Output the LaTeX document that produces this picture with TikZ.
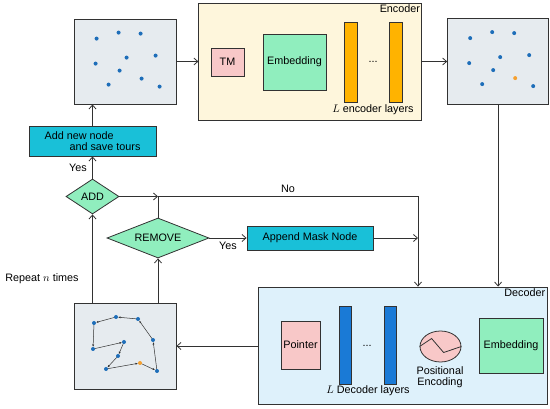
\documentclass[tikz,border=0pt]{standalone}
\usepackage{fontspec}
\setmainfont{Liberation Sans}
\usepackage{tikz}
\usetikzlibrary{shapes.geometric, arrows.meta, positioning, calc}
\definecolor{linegray}{RGB}{50,50,50}
\definecolor{boxgray}{RGB}{230,235,239}
\definecolor{enccolor}{RGB}{254,246,220}
\definecolor{deccolor}{RGB}{222,241,251}
\definecolor{pinkfill}{RGB}{248,200,200}
\definecolor{embgreen}{RGB}{144,238,190}
\definecolor{barorange}{RGB}{255,179,0}
\definecolor{barblue}{RGB}{26,122,214}
\definecolor{cyanfill}{RGB}{25,192,216}
\definecolor{dotblue}{RGB}{30,110,185}
\definecolor{dotorange}{RGB}{245,160,48}

\begin{document}
\begin{tikzpicture}[
    x=1pt, y=-1pt,
    font=\fontsize{10.8}{12.5}\selectfont,
    node distance=22pt and 22pt,
    ptsbox/.style={rectangle, draw=linegray, line width=0.8pt, fill=boxgray, minimum width=102pt, minimum height=85pt, inner sep=0pt},
    box/.style={rectangle, draw=linegray, line width=0.8pt, align=center, inner sep=0pt},
    layerbar/.style={rectangle, draw=linegray, line width=0.6pt, minimum width=13pt, minimum height=80pt, inner sep=0pt},
    decision/.style={diamond, draw=linegray, line width=0.8pt, fill=embgreen, shape aspect=2, inner sep=0pt},
    dot/.style={circle, fill=dotblue, inner sep=0pt, minimum size=4pt},
    arrow/.style={-{Straight Barb[length=4pt, width=7pt]}, line width=0.8pt, draw=linegray},
    tourarrow/.style={-{Latex[length=2.5pt, width=2pt]}, line width=0.5pt, draw=linegray, shorten >=2pt},
    corner/.style={anchor=north east, inner sep=2pt}
]
\useasboundingbox (0,0) rectangle (550,409);

% top row
\node[ptsbox] (pts) at (125,61.5) {};
\node[box, fill=enccolor, minimum width=223pt, minimum height=117pt, right=22pt of pts] (enc) {};
\node[ptsbox, right=25pt of enc, minimum width=101pt, minimum height=86pt] (encpts) {};
\node[corner] at (enc.north east) {Encoder};

\node[box, fill=pinkfill, minimum width=33pt, minimum height=28pt] (tm) at (227.5,62) {TM};
\node[box, fill=embgreen, minimum width=63pt, minimum height=56pt] (emb) at (294.5,62) {Embedding};
\node[layerbar, fill=barorange] (encl1) at (350.5,62) {};
\node[layerbar, fill=barorange] (encl2) at (395.5,62) {};
\node (encdots) at (373,62) {...};
\node (enclabel) at (373,110) {$L$ encoder layers};

\foreach \dx/\dy in {23/20, 45/14, 67/15, 22/45, 53/39, 82/37, 46/52, 35/66, 86/68}
  \node[dot] at ($(pts.north west)+(\dx,\dy)$) {};
\node[dot] at ($(pts.north west)+(68,60)$) {};
\foreach \dx/\dy in {23/20, 45/14, 67/15, 22/45, 53/39, 82/37, 46/52, 35/66, 86/68}
  \node[dot] at ($(encpts.north west)+(\dx,\dy)$) {};
\node[dot, fill=dotorange] at ($(encpts.north west)+(68,60)$) {};

% decoder
\node[box, fill=deccolor, minimum width=289pt, minimum height=117pt] (dec) at (402.5,345.5) {};
\node[corner] at (dec.north east) {Decoder};
\node[box, fill=pinkfill, minimum width=39pt, minimum height=48pt] (ptr) at (300.5,345) {Pointer};
\node[layerbar, fill=barblue, minimum width=12pt, minimum height=78pt] (decl1) at (345,345) {};
\node[layerbar, fill=barblue, minimum width=12pt, minimum height=78pt] (decl2) at (390,345) {};
\node (decdots) at (367,346) {...};
\node (declabel) at (368,391) {$L$ Decoder layers};
\node[ellipse, draw=linegray, line width=0.8pt, fill=pinkfill, minimum width=41pt, minimum height=31pt, inner sep=0pt] (pe) at (440.5,346.5) {};
\draw[linegray, line width=0.8pt] (pe.west) -- ++(12,-8) -- ++(12,14) -- (pe.east);
\node[align=center] (pelabel) at (440,377) {Positional\\[-1pt]Encoding};
\node[box, fill=embgreen, minimum width=64pt, minimum height=55pt] (demb) at (511,345.5) {Embedding};

% tour
\node[ptsbox, minimum height=86pt] (tour) at (125,346) {};
\foreach \name/\px/\py in {t1/94/323, t2/116/317, t3/138/319, t4/153/340, t5/157/371,
    t6/140/363, t7/106/369, t8/118/356, t9/124/342, t10/93/349}
  \coordinate (\name) at (\px,\py);
\foreach \a/\b in {t6/t5, t5/t4, t4/t3, t3/t2, t2/t1, t1/t10, t10/t9, t9/t8, t8/t7, t7/t6}
  \draw[tourarrow] (\a) -- (\b);
\foreach \name in {t1, t2, t3, t4, t5, t7, t8, t9, t10}
  \node[dot] at (\name) {};
\node[dot, fill=dotorange] at (t6) {};

% control flow
\node[decision, minimum width=53pt, minimum height=35pt] (add) at (92.5,196.5) {ADD};
\node[decision, minimum width=102pt, minimum height=40pt] (remove) at (158,238) {REMOVE};
\node[box, fill=cyanfill, minimum width=127pt, minimum height=30pt, align=left] (newnode) at (92.5,141) {Add new node\\[-1.5pt]\hspace*{25pt}and save tours};
\node[box, fill=cyanfill, minimum width=126pt, minimum height=24pt] (mask) at (310,238) {Append Mask Node};
\node (repeat) at (42,279) {Repeat $n$ times};

\coordinate (join) at (remove |- add);
\coordinate (merge) at (418,196.5);

\draw[arrow] (pts) -- (enc);
\draw[arrow] (enc) -- (encpts);
\draw[arrow] (encpts) -- (encpts |- dec.north);
\draw[arrow] (dec.west |- tour.east) -- (tour.east);
\draw[arrow] (add |- tour.north) -- (add);
\draw[arrow] (remove |- tour.north) -- (remove);
\draw[arrow] (add) -- node[left, xshift=-2pt]{Yes} (newnode);
\draw[arrow] (newnode.north) -- (newnode.north |- pts.south);
\draw[arrow] (add) -- (join);
\draw[line width=0.8pt, linegray] (remove) -- (join);
\draw[arrow] (join) -- node[above, pos=0.5]{No} (merge) -- (merge |- dec.north);
\draw[arrow] (remove) -- node[below]{Yes} (mask);
\draw[arrow] (mask) -- (mask -| merge);
\end{tikzpicture}
\end{document}
